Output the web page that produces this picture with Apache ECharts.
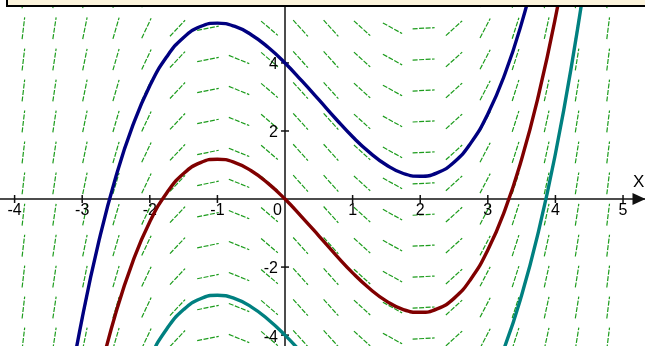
<!DOCTYPE html>
<html>
<head>
<meta charset="utf-8">
<script src="https://cdn.jsdelivr.net/npm/echarts@6/dist/echarts.min.js"></script>
<style>
  html, body { margin: 0; padding: 0; background: #fff; }
  #chart { width: 645px; height: 346px; }
</style>
</head>
<body>
<div id="chart"></div>
<script>
// tick labels
const xTicks = [-4, -3, -2, -1, 1, 2, 3, 4, 5]
const yTicks = [-4, -2, 2, 4]

// slope field grid: column positions, one slope per column, row positions
const colX = [-3.87, -3.41, -2.96, -2.50, -2.05, -1.59, -1.14, -0.68, -0.23, 0.23,
  0.68, 1.14, 1.59, 2.05, 2.50, 2.96, 3.41, 3.87, 4.32, 4.78]
const colSlope = [16.8, 13.1, 9.7, 6.8, 4.2, 2.1, 0.4, -0.8, -1.7, -2.2,
  -2.2, -1.8, -1.1, 0.1, 1.8, 3.8, 6.2, 9.1, 12.4, 16.0]
const rowY = [-4.10, -3.19, -2.28, -1.37, -0.46, 0.46, 1.37, 2.28, 3.19, 4.10, 5.02, 5.93]

// solution curves, sampled
const curveX = [-3.5, -3.25, -3, -2.75, -2.5, -2.25, -2, -1.75, -1.5, -1.25, -1, -0.75,
  -0.5, -0.25, 0, 0.25, 0.5, 0.75, 1, 1.25, 1.5, 1.75, 2, 2.25, 2.5, 2.75, 3, 3.25,
  3.5, 3.75, 4, 4.25, 4.5, 4.75]
const blueY = [-9.42, -6.22, -3.50, -1.21, 0.67, 2.17, 3.33, 4.18, 4.75, 5.07, 5.17, 5.08,
  4.83, 4.46, 4.00, 3.47, 2.92, 2.36, 1.83, 1.37, 1.00, 0.75, 0.67, 0.77, 1.08, 1.65,
  2.50, 3.66, 5.17, 7.05, 9.33, 12.06, 15.25, 18.94]
const redY = [-13.42, -10.22, -7.50, -5.21, -3.33, -1.83, -0.67, 0.18, 0.75, 1.07, 1.17, 1.08,
  0.83, 0.46, 0, -0.53, -1.08, -1.64, -2.17, -2.63, -3.00, -3.25, -3.33, -3.23, -2.92, -2.35,
  -1.50, -0.34, 1.17, 3.05, 5.33, 8.06, 11.25, 14.94]
const tealY = [-17.42, -14.22, -11.50, -9.21, -7.33, -5.83, -4.67, -3.82, -3.25, -2.93, -2.83, -2.92,
  -3.17, -3.54, -4.00, -4.53, -5.08, -5.64, -6.17, -6.63, -7.00, -7.25, -7.33, -7.23, -6.92, -6.35,
  -5.50, -4.34, -2.83, -0.95, 1.33, 4.06, 7.25, 10.94]

const font = "Liberation Sans"
const chart = echarts.init(document.getElementById("chart"))

const fieldData = []
colX.forEach((x, i) => rowY.forEach(y => fieldData.push([x, y, colSlope[i]])))

// kind 0 = x tick, 1 = y tick, 2 = origin label
const tickData = xTicks.map(v => [v, 0, 0]).concat(yTicks.map(v => [0, v, 1]), [[0, 0, 2]])

const curve = (ys, color) => ({
  type: "line",
  data: curveX.map((x, i) => [x, ys[i]]),
  smooth: true,
  symbol: "none",
  clip: true,
  lineStyle: { color, width: 3.4 },
  z: 5
})

chart.setOption({
  animation: false,
  backgroundColor: "#fff",
  grid: { left: 0, right: 0, top: 0, bottom: 0, outerBoundsMode: "none", containLabel: false },
  xAxis: {
    type: "value",
    min: -4.216,
    max: 5.325,
    splitLine: { show: false },
    axisTick: { show: false },
    axisLabel: { show: false },
    axisLine: {
      onZero: true,
      symbol: ["none", "triangle"],
      symbolSize: [12, 13],
      symbolOffset: [0, -6],
      lineStyle: { color: "#111", width: 1.5 }
    },
    name: "X",
    nameLocation: "end",
    nameGap: -12,
    nameTextStyle: { fontSize: 17, color: "#000", fontFamily: font, verticalAlign: "bottom", padding: [0, 0, 8, 0] }
  },
  yAxis: {
    type: "value",
    min: -4.32,
    max: 5.85,
    splitLine: { show: false },
    axisTick: { show: false },
    axisLabel: { show: false },
    axisLine: { onZero: true, lineStyle: { color: "#111", width: 1.5 } }
  },
  series: [
    {
      // direction field
      type: "custom",
      clip: true,
      data: fieldData,
      z: 1,
      renderItem(params, api) {
        const c = api.coord([api.value(0), api.value(1)])
        const s = api.size([1, 1])
        const m = api.value(2)
        let vx = s[0], vy = -m * s[1]
        const len = Math.hypot(vx, vy)
        vx = vx / len * 11
        vy = vy / len * 11
        return {
          type: "line",
          shape: { x1: c[0] - vx, y1: c[1] - vy, x2: c[0] + vx, y2: c[1] + vy },
          style: { stroke: "#1c9c1c", lineWidth: 1.2, lineDash: [5, 1.5] }
        }
      }
    },
    {
      // tick marks and labels on both axes
      type: "custom",
      data: tickData,
      z: 3,
      renderItem(params, api) {
        const v = [api.value(0), api.value(1)]
        const c = api.coord(v)
        const kind = api.value(2)
        const txt = { fontSize: 16, fontFamily: font, fill: "#000" }
        if (kind === 2) {
          return { type: "text", style: { ...txt, text: "0", x: c[0] - 3, y: c[1] + 4, align: "right", verticalAlign: "top" } }
        }
        if (kind === 0) {
          return {
            type: "group",
            children: [
              { type: "line", shape: { x1: c[0], y1: c[1] - 4, x2: c[0], y2: c[1] + 4 }, style: { stroke: "#111", lineWidth: 1.5 } },
              { type: "text", style: { ...txt, text: String(v[0]), x: c[0], y: c[1] + 4, align: "center", verticalAlign: "top" } }
            ]
          }
        }
        return {
          type: "group",
          children: [
            { type: "line", shape: { x1: c[0] - 4, y1: c[1], x2: c[0] + 4, y2: c[1] }, style: { stroke: "#111", lineWidth: 1.5 } },
            { type: "text", style: { ...txt, text: String(v[1]), x: c[0] - 7, y: c[1] + 2, align: "right", verticalAlign: "middle" } }
          ]
        }
      }
    },
    curve(blueY, "#000080"),
    curve(redY, "#800000"),
    curve(tealY, "#008080")
  ],
  graphic: [{
    type: "rect",
    shape: { x: 7, y: -3, width: 645, height: 9 },
    style: { fill: "#fcf4dc", stroke: "#000", lineWidth: 2 },
    z: 100
  }]
})
</script>
</body>
</html>
